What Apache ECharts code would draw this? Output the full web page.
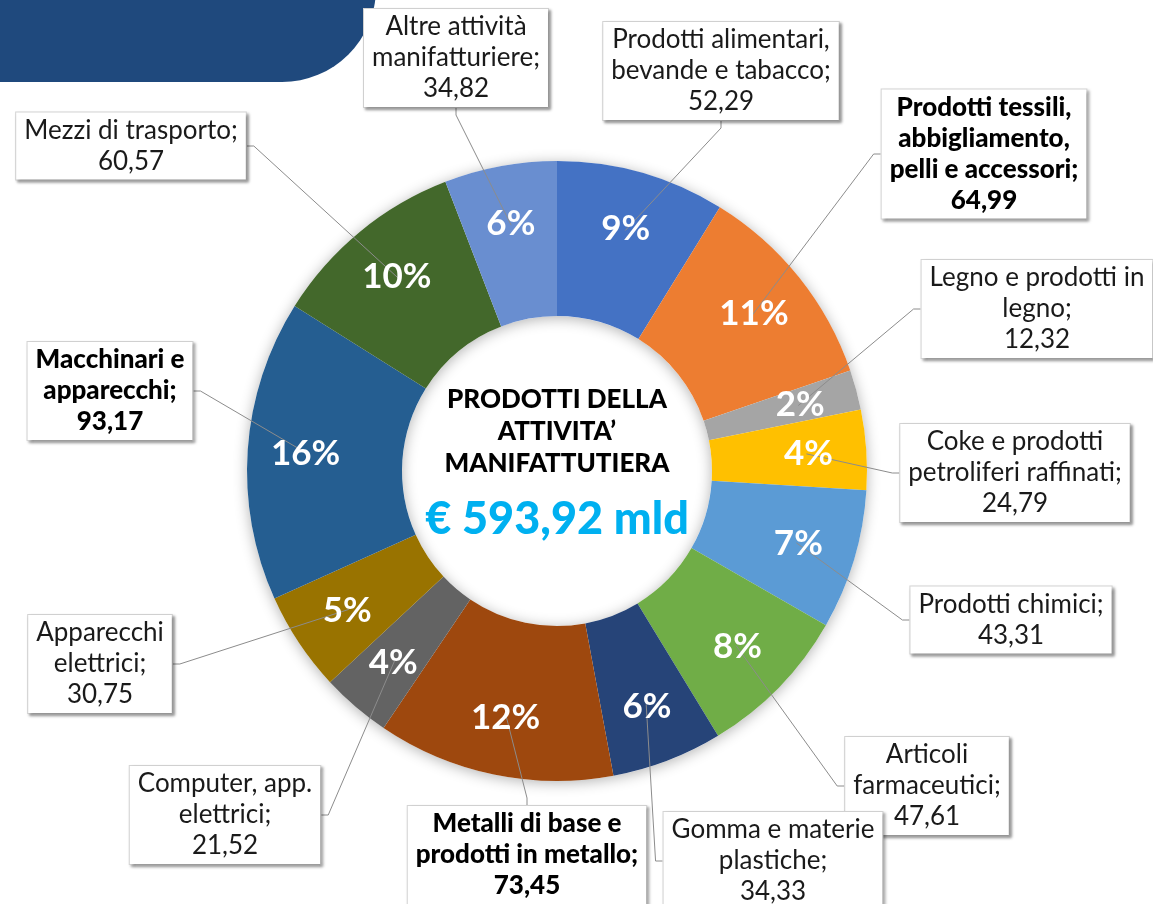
<!DOCTYPE html>
<html>
<head>
<meta charset="utf-8">
<script src="https://cdn.jsdelivr.net/npm/echarts@6/dist/echarts.min.js"></script>
<style>
  html, body { margin: 0; padding: 0; background: #fff; }
  #chart { width: 1153px; height: 904px; }
</style>
</head>
<body>
<div id="chart"></div>
<script>
// slices, clockwise from 12 o'clock
const categories = [
  'Prodotti alimentari,\nbevande e tabacco',
  'Prodotti tessili,\nabbigliamento,\npelli e accessori',
  'Legno e prodotti in\nlegno',
  'Coke e prodotti\npetroliferi raffinati',
  'Prodotti chimici',
  'Articoli\nfarmaceutici',
  'Gomma e materie\nplastiche',
  'Metalli di base e\nprodotti in metallo',
  'Computer, app.\nelettrici',
  'Apparecchi\nelettrici',
  'Macchinari e\napparecchi',
  'Mezzi di trasporto',
  'Altre attività\nmanifatturiere'
]
const values = [52.29, 64.99, 12.32, 24.79, 43.31, 47.61, 34.33, 73.45, 21.52, 30.75, 93.17, 60.57, 34.82]
const boldLabels = [false, true, false, false, false, false, false, true, false, false, true, false, false]
const colors = ['#4472C4', '#ED7D31', '#A5A5A5', '#FFC000', '#5B9BD5', '#70AD47', '#264478',
  '#9E480E', '#636363', '#997300', '#255E91', '#43682B', '#698ED0']

// where each callout box sits (box centre, px)
const labelCenters = [
  [721, 71], [984, 154], [1037, 309], [1015, 473], [1011, 620], [927, 786], [773, 861],
  [527, 855], [225, 815], [100, 664], [110, 391], [131, 146], [456, 58]
]

const total = values.reduce((a, b) => a + b, 0)
const fmt = (v) => v.toFixed(2).replace('.', ',')

const FONT = 'Lato, "Open Sans", sans-serif'
const CX = 557, CY = 471

const chart = echarts.init(document.getElementById('chart'))

const ring = {
  type: 'pie',
  center: [CX, CY],
  startAngle: 90,
  clockwise: true,
  avoidLabelOverlap: false
}

chart.setOption({
  backgroundColor: '#fff',
  animation: false,
  graphic: [
    {
      type: 'rect',
      shape: { x: -100, y: -100, width: 476, height: 182, r: [0, 0, 94, 0] },
      style: { fill: '#1F497D' },
      z: 0
    },
    {
      type: 'text',
      x: CX, y: 432,
      style: {
        text: 'PRODOTTI DELLA\nATTIVITA’\nMANIFATTUTIERA',
        font: '900 26px ' + FONT,
        lineHeight: 32,
        fill: '#000',
        align: 'center',
        verticalAlign: 'middle'
      },
      z: 10
    },
    {
      type: 'text',
      x: CX, y: 519,
      style: {
        text: '€ ' + fmt(total) + ' mld',
        font: '900 45px ' + FONT,
        fill: '#00B0F0',
        align: 'center',
        verticalAlign: 'middle'
      },
      z: 10
    }
  ],
  series: [
    {
      // soft shadow under the ring
      type: 'pie',
      silent: true,
      center: [CX, CY],
      radius: [155, 310],
      label: { show: false },
      labelLine: { show: false },
      itemStyle: { color: '#fff', shadowBlur: 14, shadowOffsetY: 2, shadowColor: 'rgba(0,0,0,0.3)' },
      data: [{ value: total }],
      z: 1
    },
    {
      ...ring,
      radius: [155, 310],
      label: { show: false },
      labelLine: { show: false },
      data: values.map((v, i) => ({ name: categories[i], value: v, itemStyle: { color: colors[i] } })),
      z: 2
    },
    {
      // transparent band, its centre line carries the percentages
      ...ring,
      silent: true,
      radius: [200, 298],
      itemStyle: { color: 'rgba(0,0,0,0)' },
      label: {
        show: true,
        position: 'inside',
        color: '#fff',
        fontFamily: FONT,
        fontWeight: 'bold',
        fontSize: 35,
        formatter: (p) => Math.round(p.percent) + '%'
      },
      labelLine: { show: false },
      data: values.map((v, i) => ({ name: categories[i], value: v })),
      z: 4
    },
    {
      // thin invisible ring: callouts and leader lines
      ...ring,
      silent: true,
      radius: [248, 250],
      itemStyle: { color: 'rgba(0,0,0,0)' },
      label: {
        show: true,
        position: 'outside',
        color: '#1a1a1a',
        fontFamily: FONT,
        fontSize: 26,
        lineHeight: 31,
        backgroundColor: '#fff',
        borderColor: '#d4d4d4',
        borderWidth: 1,
        padding: [3, 8, 2, 8],
        shadowColor: 'rgba(0,0,0,0.35)',
        shadowBlur: 3,
        shadowOffsetX: 2,
        shadowOffsetY: 2,
        formatter: (p) => p.name + ';\n' + fmt(p.value)
      },
      labelLine: { show: true, length: 10, length2: 7, lineStyle: { color: '#8c8c8c', width: 1 } },
      labelLayout: (p) => ({
        x: labelCenters[p.dataIndex][0],
        y: labelCenters[p.dataIndex][1],
        align: 'center',
        verticalAlign: 'middle'
      }),
      data: values.map((v, i) => ({
        name: categories[i],
        value: v,
        label: { fontWeight: boldLabels[i] ? 900 : 'normal', color: boldLabels[i] ? '#000' : '#1a1a1a' }
      })),
      z: 3
    }
  ]
})
</script>
</body>
</html>
